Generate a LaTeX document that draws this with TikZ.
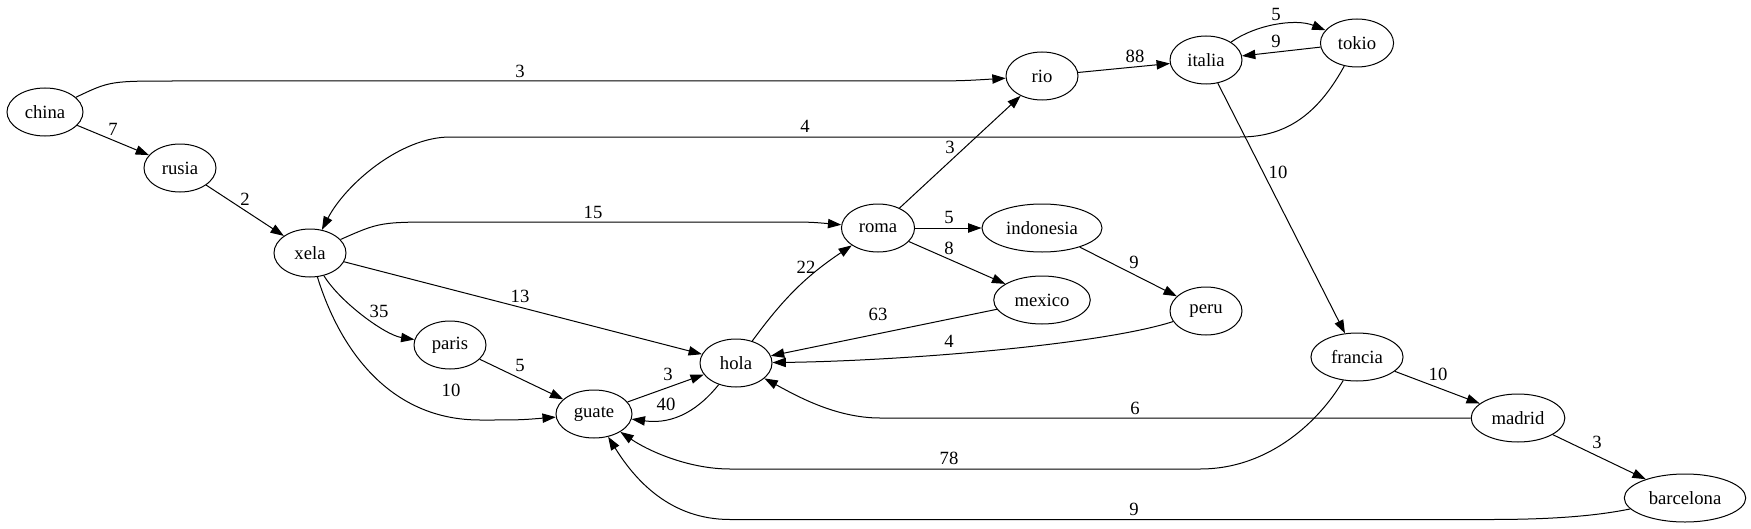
\documentclass[tikz,border=0pt]{standalone}
\usepackage{fontspec}
\setmainfont{Liberation Serif}
\usetikzlibrary{shapes.geometric,arrows.meta}

\begin{document}
\begin{tikzpicture}[x=0.75pt,y=-0.75pt,line width=0.75pt,->,>={Triangle[length=10pt,width=7pt]},
  city/.style={ellipse,draw,minimum width=54pt,minimum height=36pt,inner xsep=5pt,font=\fontsize{14pt}{17pt}\selectfont},
  weight/.style={inner sep=0pt,font=\fontsize{14pt}{17pt}\selectfont}]
  \useasboundingbox (0,0) rectangle (1751,528);
  \node[city] (china) at (45,112) {china};
  \node[city] (rusia) at (180,168) {rusia};
  \node[city] (xela) at (310,253) {xela};
  \node[city] (paris) at (450,345) {paris};
  \node[city] (guate) at (594,414) {guate};
  \node[city] (hola) at (736,363) {hola};
  \node[city] (roma) at (878,228) {roma};
  \node[city] (rio) at (1042,76) {rio};
  \node[city] (indonesia) at (1042,228) {indonesia};
  \node[city] (mexico) at (1042,300) {mexico};
  \node[city] (peru) at (1206,311) {peru};
  \node[city] (italia) at (1206,60) {italia};
  \node[city] (tokio) at (1357,43) {tokio};
  \node[city] (francia) at (1357,357) {francia};
  \node[city] (madrid) at (1518,418) {madrid};
  \node[city] (barcelona) at (1685,498) {barcelona};

  \draw (china) .. controls (110,81) .. (175,81) -- (895,81) .. controls (960,81) .. (rio) node[weight] at (520,71) {3};
  \draw (china) -- (rusia) node[weight] at (113,129) {7};
  \draw (rusia) -- (xela) node[weight] at (245,199) {2};
  \draw (tokio) .. controls (1320,110) and (1290,137) .. (1240,137) -- (450,137) .. controls (400,137) and (345,185) .. (xela) node[weight] at (805,126) {4};
  \draw (xela) .. controls (380,222) .. (445,222) -- (770,222) .. controls (810,222) .. (roma) node[weight] at (593,212) {15};
  \draw (xela) -- (hola) node[weight] at (520,296) {13};
  \draw (xela) .. controls (340,302) and (385,335) .. (paris) node[weight] at (379,311) {35};
  \draw (xela) .. controls (340,350) and (390,420) .. (480,420) .. controls (520,420) .. (guate) node[weight] at (451,390) {10};
  \draw (paris) -- (guate) node[weight] at (520,365) {5};
  \draw (guate) -- (hola) node[weight] at (668,374) {3};
  \draw (hola) .. controls (700,408) and (675,425) .. (guate) node[weight] at (666,404) {40};
  \draw (hola) to[bend left=10] (roma) node[weight] at (806,267) {22};
  \draw (roma) -- (rio) node[weight] at (950,147) {3};
  \draw (roma) -- (indonesia) node[weight] at (949,217) {5};
  \draw (roma) -- (mexico) node[weight] at (949,248) {8};
  \draw (indonesia) -- (peru) node[weight] at (1134,262) {9};
  \draw (mexico) -- (hola) node[weight] at (878,314) {63};
  \draw (peru) .. controls (1100,345) and (900,361) .. (hola) node[weight] at (949,341) {4};
  \draw (rio) -- (italia) node[weight] at (1135,56) {88};
  \draw (italia) .. controls (1255,25) and (1295,18) .. (tokio) node[weight] at (1276,14) {5};
  \draw (tokio) -- (italia) node[weight] at (1276,41) {9};
  \draw (italia) -- (francia) node[weight] at (1278,172) {10};
  \draw (francia) -- (madrid) node[weight] at (1438,374) {10};
  \draw (madrid) -- (barcelona) node[weight] at (1597,442) {3};
  \draw (madrid) -- (880,418) .. controls (835,418) and (795,395) .. (hola) node[weight] at (1135,408) {6};
  \draw (francia) .. controls (1320,420) and (1270,469) .. (1200,469) -- (730,469) .. controls (690,469) and (650,452) .. (guate) node[weight] at (949,458) {78};
  \draw (barcelona) .. controls (1600,515) and (1560,519.5) .. (1490,519.5) -- (730,519.5) .. controls (670,519.5) and (635,480) .. (guate) node[weight] at (1134,509) {9};
\end{tikzpicture}
\end{document}
